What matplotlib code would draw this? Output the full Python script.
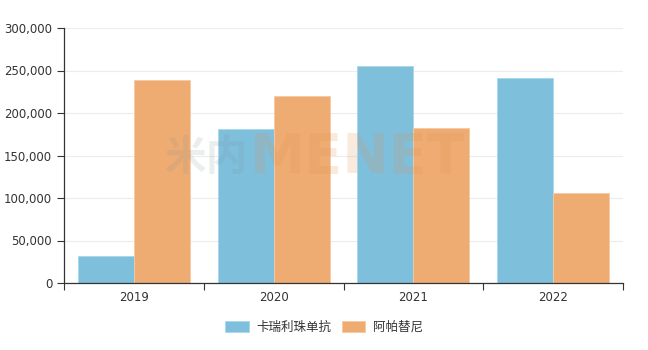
import matplotlib.pyplot as plt
import numpy as np
from matplotlib.ticker import FuncFormatter, MultipleLocator

plt.rcParams['font.family'] = ['DejaVu Sans', 'Noto Sans CJK SC']

years = ['2019', '2020', '2021', '2022']
series_names = ['卡瑞利珠单抗', '阿帕替尼']
camrelizumab = [32000, 181000, 255000, 241000]
apatinib = [239000, 220000, 182000, 106000]
colors = ['#7ebfdc', '#eeac73']

fig = plt.figure(figsize=(6.48, 3.5), dpi=100)
ax = fig.add_axes([64 / 648, 67 / 350, 559 / 648, 255 / 350])

x = np.arange(len(years))
w = 0.4
ax.bar(x - w / 2, camrelizumab, w, color=colors[0], edgecolor='#a9d6ea', linewidth=0.6,
       label=series_names[0], zorder=2)
ax.bar(x + w / 2, apatinib, w, color=colors[1], edgecolor='#f5c9a1', linewidth=0.6,
       label=series_names[1], zorder=2)

ax.set_xlim(-0.5, len(years) - 0.5)
ax.set_ylim(0, 300000)
ax.yaxis.set_major_locator(MultipleLocator(50000))
ax.yaxis.set_major_formatter(FuncFormatter(lambda v, p: f'{int(v):,}'))
ax.grid(axis='y', color='#ececec', linewidth=0.8, zorder=0)
ax.set_axisbelow(True)

# category ticks at boundaries, labels centred
ax.set_xticks(np.arange(-0.5, len(years), 1.0))
ax.set_xticklabels([])
ax.set_xticks(x, minor=True)
ax.set_xticklabels(years, minor=True)
ax.tick_params(axis='x', which='major', length=5, color='#333333', direction='out')
ax.tick_params(axis='x', which='minor', length=0, pad=6, labelsize=8.5, labelcolor='#333333')
ax.tick_params(axis='y', length=5, color='#333333', labelsize=8.5, labelcolor='#333333')

for s in ['top', 'right']:
    ax.spines[s].set_visible(False)
for s in ['left', 'bottom']:
    ax.spines[s].set_color('#333333')
    ax.spines[s].set_linewidth(0.9)

# faint watermark
fig.text(165 / 648, 1 - 158 / 350, '米内', fontsize=30, fontweight='bold', color='#7f8f96',
         alpha=0.15, va='center', ha='left', family=['Noto Sans CJK SC'], zorder=5)
fig.text(250 / 648, 1 - 158 / 350, 'MENET', fontsize=40, fontweight='bold', color='#e0904c',
         alpha=0.18, va='center', ha='left', zorder=5)

leg = fig.legend(loc='lower center', bbox_to_anchor=(0.5, 0.015), ncol=2, frameon=False,
                 handlelength=1.9, handleheight=1.0, columnspacing=0.8,
                 handletextpad=0.6, prop={'family': ['Noto Sans CJK SC'], 'size': 9})
for t in leg.get_texts():
    t.set_color('#333333')

fig.savefig('out.png', dpi=100)
